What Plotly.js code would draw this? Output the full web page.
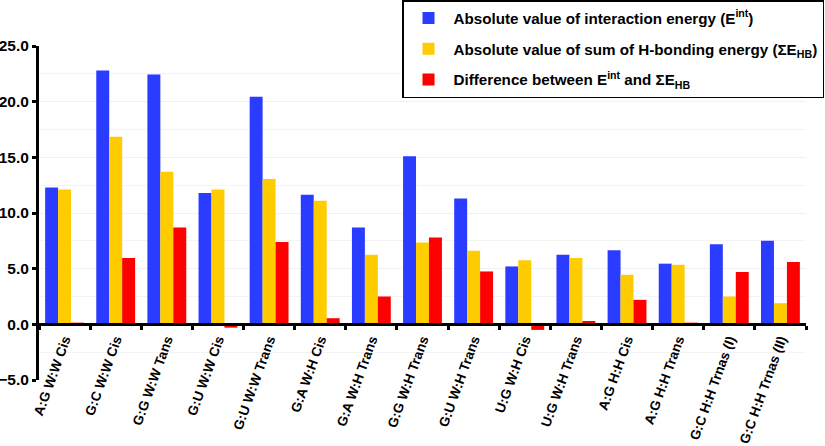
<!DOCTYPE html>
<html>
<head>
<meta charset="utf-8">
<script src="https://cdn.plot.ly/plotly-3.0.1.min.js"></script>
<style>html,body{margin:0;padding:0;background:#fff;}#chart{width:825px;height:446px;}</style>
</head>
<body>
<div id="chart"></div>
<script>
const categories = ["A:G W:W Cis","G:C W:W Cis","G:G W:W Tans","G:U W:W Cis","G:U W:W Trans","G:A W:H Cis","G:A W:H Trans","G:G W:H Trans","G:U W:H Trans","U:G W:H Cis","U:G W:H Trans","A:G H:H Cis","A:G H:H Trans","G:C H:H Trnas (I)","G:C H:H Trnas (II)"];
const interactionEnergy = [12.3, 22.8, 22.45, 11.8, 20.45, 11.65, 8.7, 15.1, 11.3, 5.2, 6.25, 6.65, 5.45, 7.2, 7.5];
const hbondSum = [12.1, 16.85, 13.7, 12.1, 13.05, 11.1, 6.25, 7.35, 6.6, 5.75, 5.95, 4.45, 5.35, 2.5, 1.9];
const difference = [0.15, 5.95, 8.7, -0.3, 7.4, 0.55, 2.5, 7.8, 4.75, -0.5, 0.3, 2.2, 0.15, 4.7, 5.6];
const yTicks = [-5, 0, 5, 10, 15, 20, 25];
const seriesNames = [
  "Absolute value of interaction energy (E<sup>int</sup>)",
  "Absolute value of sum of H-bonding energy (ΣE<sub>HB</sub>)",
  "Difference between E<sup>int</sup> and ΣE<sub>HB</sub>"
];

const colors = ["#2a3cff", "#ffcc00", "#ff0000"];
const series = [interactionEnergy, hbondSum, difference];
const traces = series.map((vals, i) => ({
  type: "bar",
  x: categories,
  y: vals,
  name: seriesNames[i],
  legendgroup: "g" + i,
  marker: {color: colors[i], line: {width: 0}},
  hoverinfo: "x+y"
}));

const F = "Liberation Sans, Arial, sans-serif";
const L = 39, R = 19, T = 46, B = 66;
const plotW = 825 - L - R, plotH = 446 - T - B;
const layout = {
  width: 825, height: 446,
  margin: {l: L, r: R, t: T, b: B, autoexpand: false},
  paper_bgcolor: "#fff", plot_bgcolor: "#fff",
  barmode: "group", bargap: 0.24, bargroupgap: 0,
  font: {family: F, color: "#000"},
  showlegend: true,
  legend: {
    x: (824 - L) / plotW, xanchor: "right", y: (446 - B) / plotH, yanchor: "top",
    bgcolor: "#fff", bordercolor: "#000", borderwidth: 1.5,
    font: {family: F, size: 15.2, color: "#000", weight: "bold"},
    itemwidth: 40,
    tracegroupgap: 8, traceorder: "grouped"
  },
  xaxis: {
    type: "category",
    anchor: "free", position: 5/30,
    showline: true, linecolor: "#000", linewidth: 3,
    ticks: "outside", tickson: "boundaries", ticklen: 4, tickwidth: 3, tickcolor: "#000",
    tickangle: -70,
    tickfont: {family: F, size: 13.6, color: "#000", weight: "bold"},
    showgrid: false, zeroline: false
  },
  yaxis: {
    range: [-5, 25],
    tickvals: yTicks,
    tickformat: ".1f",
    showline: true, linecolor: "#000", linewidth: 3,
    ticks: "outside", ticklen: 4, tickwidth: 3, tickcolor: "#000",
    tickfont: {family: F, size: 15.5, color: "#000", weight: "bold"},
    showgrid: true, gridcolor: "#f1f1f1", gridwidth: 1,
    minor: {dtick: 2.5, tick0: 0, showgrid: true, gridcolor: "#f4f4f4", gridwidth: 1},
    zeroline: false
  }
};

Plotly.newPlot("chart", traces, layout, {displayModeBar: false, staticPlot: true});
</script>
</body>
</html>
